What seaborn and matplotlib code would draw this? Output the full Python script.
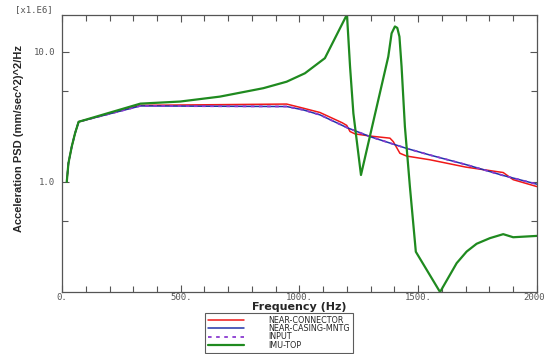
import numpy as np
import pandas as pd
import seaborn as sns
import matplotlib
matplotlib.use("Agg")
import matplotlib.pyplot as plt
from matplotlib.ticker import LogLocator, FixedLocator, MultipleLocator, NullFormatter

# PSD values in units of 1.E6 (mm/sec^2)^2/Hz
freq_red = [20, 27, 41, 55, 70, 330, 946, 1016, 1086, 1180, 1199, 1213, 1234,
            1300, 1381, 1395, 1423, 1451, 1549, 1700, 1858, 1900, 2000]
psd_red = [1.0, 1.39, 1.87, 2.37, 2.9, 3.88, 3.97, 3.69, 3.42, 2.85, 2.72, 2.44, 2.34,
           2.25, 2.17, 2.04, 1.66, 1.58, 1.48, 1.3, 1.18, 1.04, 0.92]

freq_blue = [20, 27, 41, 55, 70, 330, 946, 1016, 1086, 1199, 1297, 1451, 1549,
             1700, 1858, 2000]
psd_blue = [1.0, 1.39, 1.87, 2.37, 2.9, 3.84, 3.8, 3.58, 3.28, 2.62, 2.23, 1.81, 1.61,
            1.36, 1.12, 0.96]

freq_input = [20, 27, 41, 55, 70, 330, 946, 1016, 1086, 1199, 1297, 1451, 1549,
              1700, 1858, 2000]
psd_input = [1.0, 1.39, 1.87, 2.37, 2.9, 3.84, 3.8, 3.58, 3.28, 2.62, 2.23, 1.81, 1.61,
             1.36, 1.12, 0.96]

freq_green = [20, 27, 41, 55, 70, 330, 497, 665, 848, 946, 1023, 1107, 1200, 1213,
              1227, 1259, 1374, 1388, 1402, 1412, 1421, 1430, 1444, 1465, 1490, 1592,
              1662, 1704, 1746, 1802, 1858, 1900, 1956, 2000]
psd_green = [1.0, 1.39, 1.87, 2.37, 2.9, 4.0, 4.15, 4.53, 5.26, 5.9, 6.85, 8.95, 19.4, 7.7,
             3.37, 1.13, 9.2, 13.9, 15.7, 15.3, 13.1, 7.7, 2.66, 0.92, 0.29, 0.142,
             0.237, 0.291, 0.334, 0.369, 0.396, 0.375, 0.38, 0.384]

series = [
    ("NEAR-CONNECTOR", freq_red, psd_red, "#f01818", "-", 1.1),
    ("NEAR-CASING-MNTG", freq_blue, psd_blue, "#2233aa", "-", 1.1),
    ("INPUT", freq_input, psd_input, "#8a3ad0", (0, (2, 2.5)), 1.3),
    ("IMU-TOP", freq_green, psd_green, "#1f8a1f", "-", 1.6),
]

sns.set_style("ticks")
plt.rcParams["font.family"] = ["Liberation Sans", "DejaVu Sans"]

fig = plt.figure(figsize=(5.44, 3.54), dpi=100)
ax = fig.add_axes([0.114, 0.175, 0.873, 0.784])

for name, f, v, col, ls, lw in series:
    df = pd.DataFrame({"freq": f, "psd": v})
    sns.lineplot(data=df, x="freq", y="psd", ax=ax, color=col, linestyle=ls,
                 linewidth=lw, label=name, sort=False, estimator=None)

ax.set_yscale("log")
ax.set_xlim(0, 2000)
ax.set_ylim(min(psd_green), max(psd_green))

ax.set_xticks([0, 500, 1000, 1500, 2000])
ax.set_xticklabels(["0.", "500.", "1000.", "1500.", "2000."])
ax.xaxis.set_minor_locator(MultipleLocator(100))
ax.yaxis.set_major_locator(FixedLocator([1.0, 10.0]))
ax.set_yticklabels(["1.0", "10.0"])
ax.yaxis.set_minor_locator(LogLocator(base=10, subs=(5.0,)))
ax.yaxis.set_minor_formatter(NullFormatter())

ax.tick_params(axis="both", which="both", direction="in", bottom=True, left=True,
               top=True, right=True, color="#555555", labelcolor="#555555",
               labelsize=6.5, width=0.8)
ax.tick_params(axis="x", which="major", length=5, pad=1)
ax.tick_params(axis="y", which="major", length=5, pad=5)
ax.tick_params(axis="both", which="minor", length=4)
for lab in ax.get_xticklabels() + ax.get_yticklabels():
    lab.set_family("DejaVu Sans Mono")

for sp in ax.spines.values():
    sp.set_visible(True)
    sp.set_color("#555555")
    sp.set_linewidth(0.9)

ax.set_xlabel("Frequency (Hz)", fontsize=8, fontweight="bold",
              family=["DejaVu Sans"], labelpad=0)
ax.set_ylabel("Acceleration PSD (mm/sec^2)^2/Hz", fontsize=8, fontweight="bold",
              family=["DejaVu Sans Condensed", "Liberation Sans Narrow", "Liberation Sans"])
ax.yaxis.set_label_coords(-0.08, 0.555)
fig.text(0.028, 0.972, "[x1.E6]", fontsize=6.5, color="#555555",
         family=["DejaVu Sans Mono"], va="center", ha="left")

ax.get_legend().remove()
handles, labels = ax.get_legend_handles_labels()
leg = fig.legend(handles, labels, loc="upper left", bbox_to_anchor=(0.377, 0.116),
                 prop={"family": "DejaVu Sans", "size": 5.8},
                 frameon=True, fancybox=False, edgecolor="#333333",
                 handlelength=4.5, handletextpad=3.0, labelspacing=-0.08,
                 borderpad=0.35, borderaxespad=0)
leg.get_frame().set_linewidth(0.8)

fig.savefig("out.png", dpi=100)
